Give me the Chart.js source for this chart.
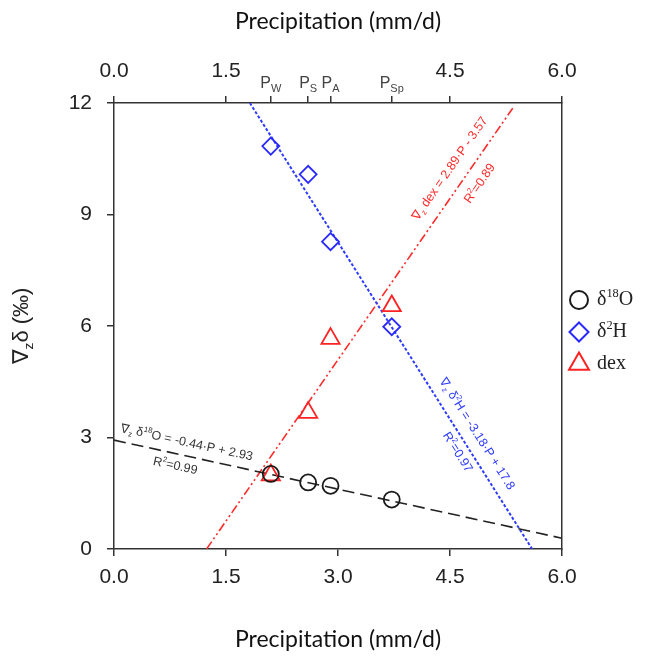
<!DOCTYPE html>
<html lang="en">
<head>
<meta charset="UTF-8">
<title>Vertical isotope gradients vs precipitation</title>
<script src="https://cdn.jsdelivr.net/npm/chart.js"></script>
<style>
    body {
        margin: 0;
        padding: 0;
        background: #fff;
    }
    #wrap {
        width: 672px;
        height: 658px;
    }
</style>
</head>
<body>
<div id="wrap"><canvas id="chart" width="672" height="658"></canvas></div>
<script>
// seasonal mean precipitation (mm/d): winter, summer, autumn, spring
const precip = [2.1, 2.6, 2.9, 3.72];
const seasonNames = ['W', 'S', 'A', 'Sp'];

// vertical gradients (per mil)
const gradO18 = [2.02, 1.79, 1.70, 1.33];
const gradH2 = [10.84, 10.08, 8.27, 5.98];
const gradDex = [1.99, 3.67, 5.66, 6.54];

// regression lines, end points
const fitO18X = [0, 6];
const fitO18Y = [2.93, 0.29];
const fitH2X = [1.82, 5.6];
const fitH2Y = [12, 0];
const fitDexX = [1.24, 5.34];
const fitDexY = [0, 11.86];

// axis ticks
const xTicks = [0, 1.5, 3, 4.5, 6];
const topTicks = [0, 1.5, 4.5, 6];
const yTicks = [0, 3, 6, 9, 12];

const SANS = '"Liberation Sans", Arial, sans-serif';
const SERIF = '"Liberation Serif", "Times New Roman", serif';
const AXIS = '#333';

function pts(xs, ys) {
    return xs.map((x, i) => ({ x: x, y: ys[i] }));
}

// tiny markup: _{..} subscript, ^{..} superscript
function parseRich(str) {
    const out = [];
    const re = /([_^])\{([^}]*)\}|([^_^]+)/g;
    let m;
    while ((m = re.exec(str)) !== null) {
        if (m[3]) out.push({ t: m[3] });
        else out.push({ t: m[2], sub: m[1] === '_', sup: m[1] === '^' });
    }
    return out;
}

function drawRich(ctx, str, x, y, angle, size, family, color, align) {
    const segs = parseRich(str);
    ctx.save();
    ctx.translate(x, y);
    ctx.rotate(angle);
    ctx.fillStyle = color;
    ctx.textBaseline = 'middle';
    ctx.textAlign = 'left';
    let w = 0;
    segs.forEach(s => {
        ctx.font = ((s.sub || s.sup) ? size * 0.62 : size) + 'px ' + family;
        w += ctx.measureText(s.t).width;
    });
    let cx = align === 'left' ? 0 : -w / 2;
    segs.forEach(s => {
        const sz = (s.sub || s.sup) ? size * 0.62 : size;
        ctx.font = sz + 'px ' + family;
        const dy = s.sub ? size * 0.32 : (s.sup ? -size * 0.32 : 0);
        ctx.fillText(s.t, cx, dy);
        cx += ctx.measureText(s.t).width;
    });
    ctx.restore();
}

// equation labels along the fitted lines (anchored in data units)
const fitLabels = [
    { text: '∇_{z} δ^{18}O = -0.44·P + 2.93', at: [0.97, 2.86], line: [fitO18X, fitO18Y], color: '#333' },
    { text: 'R^{2}=0.99', at: [0.82, 2.23], line: [fitO18X, fitO18Y], color: '#333' },
    { text: '∇_{z} dex = 2.89·P - 3.57', at: [4.5, 10.23], line: [fitDexX, fitDexY], color: '#ff2a2a' },
    { text: 'R^{2}=0.89', at: [4.9, 9.83], line: [fitDexX, fitDexY], color: '#ff2a2a' },
    { text: '∇_{z} δ^{2}H = -3.18·P + 17.8', at: [4.86, 3.1], line: [fitH2X, fitH2Y], color: '#2e3cff' },
    { text: 'R^{2}=0.97', at: [4.6, 2.6], line: [fitH2X, fitH2Y], color: '#2e3cff' }
];

const decorations = {
    id: 'decorations',
    afterDatasetsDraw(chart) {
        const { ctx, chartArea, scales } = chart;
        const sx = scales.x, sy = scales.y, sx2 = scales.x2;

        fitLabels.forEach(l => {
            const [lx, ly] = l.line;
            const ang = Math.atan2(sy.getPixelForValue(ly[1]) - sy.getPixelForValue(ly[0]),
                                   sx.getPixelForValue(lx[1]) - sx.getPixelForValue(lx[0]));
            drawRich(ctx, l.text, sx.getPixelForValue(l.at[0]), sy.getPixelForValue(l.at[1]),
                     ang, 12.5, SANS, l.color);
        });

        // seasonal labels on the top axis
        precip.forEach((p, i) => {
            const px = sx2.getPixelForValue(p);
            ctx.save();
            ctx.fillStyle = '#444';
            ctx.textBaseline = 'alphabetic';
            ctx.font = '16px ' + SANS;
            const pw = ctx.measureText('P').width;
            ctx.font = '11px ' + SANS;
            const sw = ctx.measureText(seasonNames[i]).width;
            const x0 = px - (pw + sw) / 2;
            ctx.font = '16px ' + SANS;
            ctx.fillText('P', x0, chartArea.top - 15);
            ctx.font = '11px ' + SANS;
            ctx.fillText(seasonNames[i], x0 + pw, chartArea.top - 11);
            ctx.restore();
        });

        // y axis title
        drawRich(ctx, '∇_{z}δ (‰)', 22, (chartArea.top + chartArea.bottom) / 2, -Math.PI / 2, 22, SANS, '#222');

        // legend
        const markers = chart.data.datasets.filter(d => d.legend);
        markers.forEach((d, i) => {
            const lx = chartArea.right + 17;
            const ly = 300 + i * 32;
            ctx.save();
            ctx.strokeStyle = d.borderColor;
            ctx.fillStyle = 'rgba(0,0,0,0)';
            ctx.lineWidth = 2;
            Chart.helpers.drawPoint(ctx, { pointStyle: d.pointStyle, radius: d.pointRadius + 1, rotation: 0, borderWidth: 2 }, lx, ly);
            ctx.restore();
            drawRich(ctx, d.label, lx + 18, ly, 0, 20, SERIF, '#222', 'left');
        });
    }
};

const ctx = document.getElementById('chart').getContext('2d');
new Chart(ctx, {
    type: 'scatter',
    data: {
        datasets: [
            {
                label: 'δ^{18}O', legend: true,
                data: pts(precip, gradO18),
                pointStyle: 'circle', pointRadius: 8,
                borderColor: '#1a1a1a', backgroundColor: 'rgba(0,0,0,0)', borderWidth: 1.8
            },
            {
                label: 'δ^{2}H', legend: true,
                data: pts(precip, gradH2),
                pointStyle: 'rectRot', pointRadius: 8.5,
                borderColor: '#2a2aff', backgroundColor: 'rgba(0,0,0,0)', borderWidth: 1.8
            },
            {
                label: 'dex', legend: true,
                data: pts(precip, gradDex),
                pointStyle: 'triangle', pointRadius: 10.5,
                borderColor: '#ff2222', backgroundColor: 'rgba(0,0,0,0)', borderWidth: 1.8
            },
            {
                label: 'fit δ18O', type: 'line', showLine: true,
                data: pts(fitO18X, fitO18Y), pointRadius: 0,
                borderColor: '#222', borderWidth: 1.6, borderDash: [12, 6]
            },
            {
                label: 'fit δ2H', type: 'line', showLine: true,
                data: pts(fitH2X, fitH2Y), pointRadius: 0,
                borderColor: '#2e3cff', borderWidth: 2, borderDash: [3, 2]
            },
            {
                label: 'fit dex', type: 'line', showLine: true,
                data: pts(fitDexX, fitDexY), pointRadius: 0,
                borderColor: '#ff2a2a', borderWidth: 1.6, borderDash: [9, 3, 2, 3, 2, 3]
            }
        ]
    },
    options: {
        responsive: false,
        animation: false,
        layout: { padding: 0 },
        plugins: {
            legend: { display: false },
            tooltip: { enabled: false }
        },
        scales: {
            x: {
                type: 'linear', position: 'bottom', min: 0, max: 6,
                afterBuildTicks: a => { a.ticks = xTicks.map(v => ({ value: v })); },
                afterFit: a => { a.height = 109; },
                ticks: {
                    callback: v => v.toFixed(1), color: '#222', padding: 9,
                    font: { family: SANS, size: 21 }, maxRotation: 0
                },
                grid: { drawOnChartArea: false, drawTicks: true, tickLength: 7, color: AXIS, lineWidth: 1.5 },
                border: { display: true, color: AXIS, width: 1.5 },
                title: {
                    display: true, text: 'Precipitation (mm/d)', color: '#111',
                    font: { family: 'Lato, "Open Sans", sans-serif', size: 23 },
                    padding: { top: 4, bottom: 5 }
                }
            },
            x2: {
                type: 'linear', position: 'top', min: 0, max: 6,
                afterBuildTicks: a => {
                    a.ticks = topTicks.concat(precip).sort((p, q) => p - q).map(v => ({ value: v }));
                },
                afterFit: a => { a.height = 103; },
                ticks: {
                    callback: v => topTicks.includes(v) ? v.toFixed(1) : '',
                    color: '#222', padding: 12,
                    font: { family: SANS, size: 21 }, maxRotation: 0
                },
                grid: { drawOnChartArea: false, drawTicks: true, tickLength: 7, color: AXIS, lineWidth: 1.5 },
                border: { display: true, color: AXIS, width: 1.5 },
                title: {
                    display: true, text: 'Precipitation (mm/d)', color: '#111',
                    font: { family: 'Lato, "Open Sans", sans-serif', size: 23 },
                    padding: { top: 8, bottom: 4 }
                }
            },
            y: {
                type: 'linear', position: 'left', min: 0, max: 12,
                afterBuildTicks: a => { a.ticks = yTicks.map(v => ({ value: v })); },
                afterFit: a => { a.width = 114; },
                ticks: {
                    color: '#222', padding: 15,
                    font: { family: SANS, size: 21 }
                },
                grid: { drawOnChartArea: false, drawTicks: true, tickLength: 7, color: AXIS, lineWidth: 1.5 },
                border: { display: true, color: AXIS, width: 1.5 }
            },
            y2: {
                type: 'linear', position: 'right', min: 0, max: 12,
                afterFit: a => { a.width = 110; },
                ticks: { display: false },
                grid: { display: false },
                border: { display: true, color: AXIS, width: 1.5 }
            }
        }
    },
    plugins: [decorations]
});
</script>
</body>
</html>
